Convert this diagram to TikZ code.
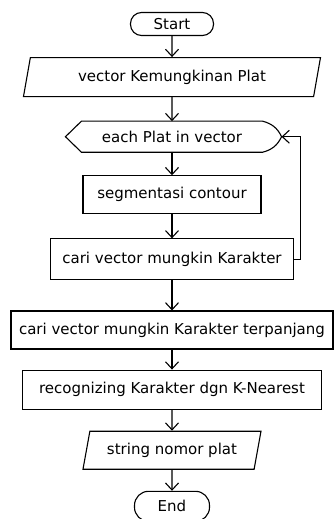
\documentclass[tikz,border=0pt]{standalone}
\usepackage{fontspec}
\setmainfont{DejaVu Sans}
\usetikzlibrary{arrows.meta,positioning,shapes.geometric}

\begin{document}
\begin{tikzpicture}[>={Straight Barb[length=7pt,width=13pt]},node distance=21pt,line width=1.1pt,font=\fontsize{15}{17}\selectfont]
  \useasboundingbox (0,0) rectangle (333pt,-519pt);
  \tikzstyle{ujung}=[draw,rounded corners=11pt,minimum height=23pt,inner sep=1pt]
  \tikzstyle{proses}=[draw,minimum height=39pt,align=center]
  \tikzstyle{io}=[draw,trapezium,trapezium left angle=72,trapezium right angle=108,trapezium stretches body,minimum height=39pt]
  \node[ujung,minimum width=83pt] (start) at (172pt,-24pt) {Start};
  \node[io,below=21pt of start,minimum width=297pt] (vec) {vector Kemungkinan Plat};
  \node[minimum width=180pt,minimum height=30pt,below=24pt of vec] (each) {each Plat in vector};
  \coordinate (eachtip) at ([xshift=19pt]each.east);
  \draw ([xshift=-16pt]each.west) -- (each.north west) -- (each.north east) to[out=-15,in=115] (eachtip) to[out=-115,in=15] (each.south east) -- (each.south west) -- cycle;
  \node[proses,below=23pt of each,minimum width=178pt,minimum height=38pt] (seg) {segmentasi contour};
  \node[proses,below=24pt of seg,minimum width=243pt,minimum height=41pt] (cari) {cari vector mungkin Karakter};
  \node[proses,below=30pt of cari,minimum width=322pt,minimum height=38pt] (panjang) {cari vector mungkin Karakter terpanjang};
  \node[proses,below=20pt of panjang,minimum width=299pt] (knn) {recognizing Karakter dgn K-Nearest};
  \node[io,below=21pt of knn,minimum width=178pt,minimum height=38pt] (hasil) {string nomor plat};
  \node[ujung,below=21pt of hasil,minimum width=75pt,minimum height=30pt,rounded corners=14pt] (end) {End};
  \draw[->] (start) -- (vec);
  \draw[->] (vec) -- (each);
  \draw[->] (each) -- (seg);
  \draw[->] (seg) -- (cari);
  \draw[->] (cari) -- (panjang);
  \draw[->] (panjang) -- (knn);
  \draw[->] (knn) -- (hasil);
  \draw[->] (hasil) -- (end);
  \draw[->] (cari.east) -- ++(6pt,0) |- (eachtip);
\end{tikzpicture}
\end{document}
